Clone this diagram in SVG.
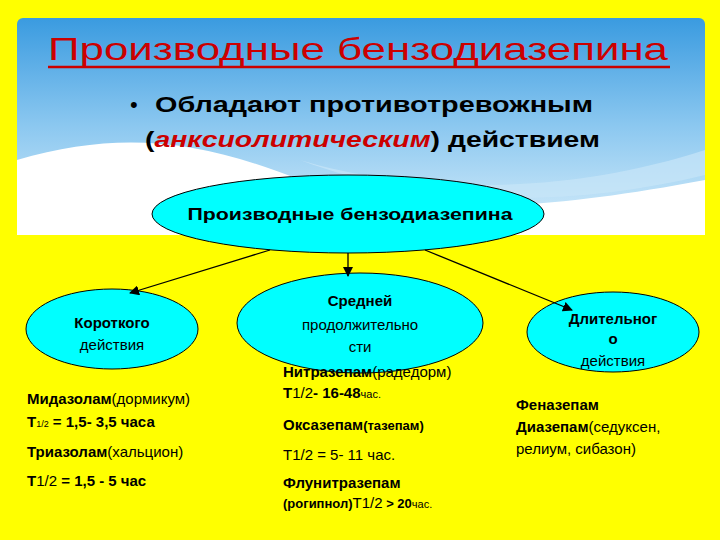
<svg xmlns="http://www.w3.org/2000/svg" width="720" height="540" viewBox="0 0 720 540">
<defs>
<linearGradient id="sky" x1="0" y1="0" x2="0" y2="1">
<stop offset="0" stop-color="#3a9be0"/><stop offset="0.5" stop-color="#8cc8f0"/><stop offset="1" stop-color="#d8eefa"/>
</linearGradient>
<marker id="ar" markerWidth="10" markerHeight="10" refX="9" refY="5" orient="auto" markerUnits="userSpaceOnUse"><path d="M0,0 L10,5 L0,10 Z" fill="#000"/></marker>
</defs>
<style>
.t{font-family:"Liberation Sans",Arial,sans-serif;fill:#000}
.b{font-weight:bold}
.el{fill:#00ffff;stroke:#000;stroke-width:1}
.c{stroke:#000;stroke-width:1.3;fill:none;marker-end:url(#ar)}
</style>
<rect width="720" height="540" fill="#ffff00"/>
<g id="panel">
<rect x="17" y="18" width="688" height="217" rx="6" fill="url(#sky)"/>
<path d="M17,160 C120,130 200,140 300,180 C400,215 520,215 705,180 L705,235 L17,235 Z" fill="#fff"/>
<path d="M300,160 C400,190 550,200 705,150 L705,175 C560,210 420,205 300,160Z" fill="#c8e6f8" opacity="0.7"/>
</g>
<g id="title">
<text class="t" x="48" y="60" font-size="32" style="fill:#cc0000" textLength="620" lengthAdjust="spacingAndGlyphs">Производные  бензодиазепина</text>
<line x1="48" y1="67" x2="670" y2="67" stroke="#cc0000" stroke-width="2.5"/>
<text class="t" x="130" y="112" font-size="22">•</text>
<text class="t b" x="155" y="112" font-size="22" textLength="438" lengthAdjust="spacingAndGlyphs">Обладают  противотревожным</text>
<text class="t b" x="145" y="147" font-size="22" textLength="455" lengthAdjust="spacingAndGlyphs"><tspan>(</tspan><tspan font-style="italic" style="fill:#cc0000">анксиолитическим</tspan><tspan>)  действием</tspan></text>
</g>
<g id="root">
<ellipse class="el" cx="348" cy="214" rx="196" ry="39"/>
<text class="t b" x="350" y="220" font-size="17" text-anchor="middle" textLength="325" lengthAdjust="spacingAndGlyphs">Производные  бензодиазепина</text>
</g>
<g id="short">
<ellipse class="el" cx="112" cy="329" rx="86" ry="40"/>
<text class="t b" x="112" y="328" font-size="15" text-anchor="middle">Короткого</text>
<text class="t" x="112" y="350" font-size="15" text-anchor="middle">действия</text>
</g>
<g id="mid">
<ellipse class="el" cx="360" cy="323" rx="123" ry="50"/>
<text class="t b" x="360" y="306" font-size="15" text-anchor="middle">Средней</text>
<text class="t" x="360" y="330" font-size="15" text-anchor="middle">продолжительно</text>
<text class="t" x="360" y="352" font-size="15" text-anchor="middle">сти</text>
</g>
<g id="long">
<ellipse class="el" cx="613" cy="332" rx="86" ry="40"/>
<text class="t b" x="613" y="324" font-size="15" text-anchor="middle">Длительног</text>
<text class="t b" x="613" y="344" font-size="15" text-anchor="middle">о</text>
<text class="t" x="613" y="366" font-size="15" text-anchor="middle">действия</text>
</g>
<g id="connectors">
<line class="c" x1="270" y1="250" x2="130" y2="293"/>
<line class="c" x1="348" y1="253" x2="348" y2="276"/>
<line class="c" x1="425" y1="250" x2="572" y2="310"/>
</g>
<g id="shortlist" font-size="15">
<text class="t" x="27" y="404"><tspan class="b">Мидазолам</tspan>(дормикум)</text>
<text class="t b" x="27" y="427">Т<tspan font-size="9" font-weight="normal">1/2</tspan> = 1,5- 3,5 часа</text>
<text class="t" x="27" y="457"><tspan class="b">Триазолам</tspan>(хальцион)</text>
<text class="t b" x="27" y="486">Т<tspan font-weight="normal">1/2</tspan> = 1,5 - 5  час</text>
</g>
<g id="midlist" font-size="15">
<text class="t" x="283" y="377"><tspan class="b">Нитразепам</tspan>(радедорм)</text>
<text class="t b" x="283" y="398">Т<tspan font-weight="normal">1/2</tspan>- 16-48<tspan font-size="11" font-weight="normal">час.</tspan></text>
<text class="t b" x="283" y="430">Оксазепам<tspan font-size="13">(тазепам)</tspan></text>
<text class="t" x="283" y="460">Т1/2 = 5- 11 час.</text>
<text class="t b" x="283" y="488">Флунитразепам</text>
<text class="t b" x="283" y="508" font-size="13">(рогипнол)<tspan font-weight="normal" font-size="15">Т1/2</tspan>  &gt; 20<tspan font-size="11" font-weight="normal">час.</tspan></text>
</g>
<g id="longlist" font-size="15">
<text class="t b" x="516" y="410">Феназепам</text>
<text class="t" x="516" y="432"><tspan class="b">Диазепам</tspan>(седуксен,</text>
<text class="t" x="516" y="454">релиум, сибазон)</text>
</g>
</svg>
